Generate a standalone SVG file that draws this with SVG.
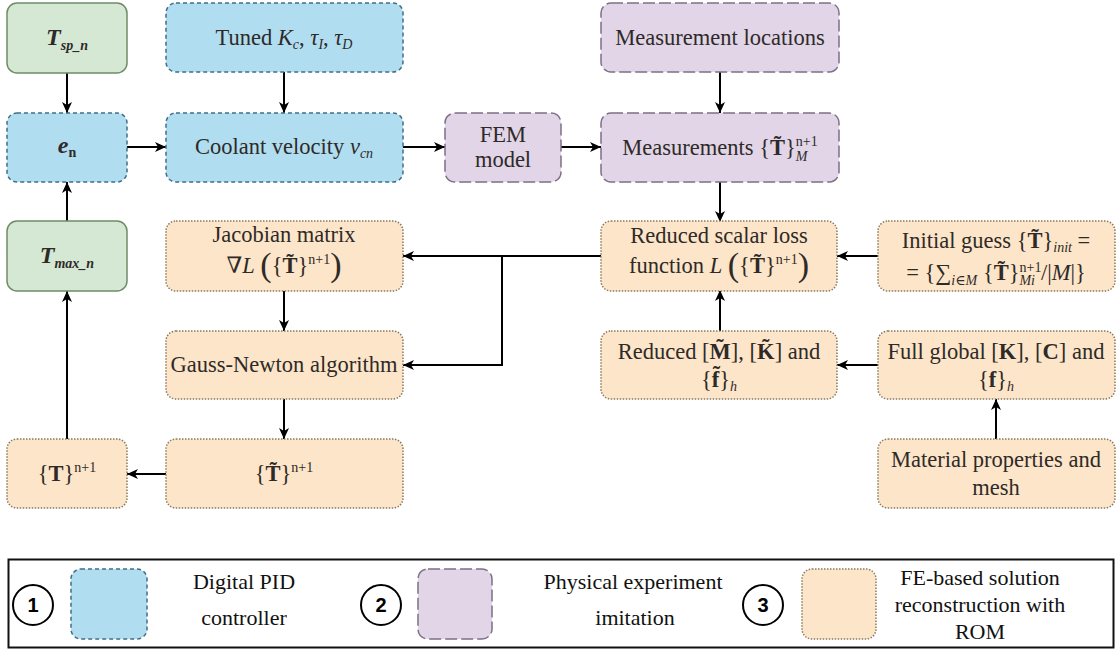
<svg xmlns="http://www.w3.org/2000/svg" width="1119" height="651" viewBox="0 0 1119 651">
  <style>
    .box { stroke-width: 1.5; }
    .green { fill: #d5e8d4; stroke: #6f8c68; }
    .blue { fill: #b1ddf0; stroke: #3f6f88; stroke-dasharray: 4 3; }
    .purple { fill: #e1d5e7; stroke: #7d6f86; stroke-dasharray: 12 4; }
    .orange { fill: #fde5c9; stroke: #8c7a5c; stroke-dasharray: 1.5 1.5; }
    text { font-family: "Liberation Serif", "DejaVu Serif", serif; }
    .lbl { font-size: 22.5px; fill: #2e2a28; text-anchor: middle; }
    .it { font-style: italic; }
    .bf { font-weight: bold; }
    .sm { font-size: 14px; }
    .big { font-size: 34px; }
    .conn { fill: none; stroke: #000; stroke-width: 2; marker-end: url(#arrow); }
    .legend-text { font-size: 22px; fill: #111; text-anchor: middle; }
    .num { font-family: "Liberation Sans", Arial, sans-serif; font-size: 20px; font-weight: bold; text-anchor: middle; fill: #000; }
  </style>
  <defs>
    <marker id="arrow" markerUnits="userSpaceOnUse" markerWidth="12" markerHeight="10" refX="11" refY="5" orient="auto">
      <path d="M0,0 L11,5 L0,10 L3,5 z" fill="#000"/>
    </marker>
  </defs>

  <rect width="1119" height="651" fill="#fff"/>

  <!-- connectors -->
  <g id="connectors">
    <path class="conn" d="M67,73 V113"/>
    <path class="conn" d="M284,72 V113"/>
    <path class="conn" d="M127,147 H166"/>
    <path class="conn" d="M403,147 H445"/>
    <path class="conn" d="M561,147 H601"/>
    <path class="conn" d="M720,72 V113"/>
    <path class="conn" d="M720,182 V222"/>
    <path class="conn" d="M878,256 H837"/>
    <path class="conn" d="M601,256 H403"/>
    <path class="conn" d="M502,256 V365 H403"/>
    <path class="conn" d="M284,291 V331"/>
    <path class="conn" d="M284,399 V439"/>
    <path class="conn" d="M166,474 H127"/>
    <path class="conn" d="M67,439 V291"/>
    <path class="conn" d="M67,221 V182"/>
    <path class="conn" d="M720,331 V290"/>
    <path class="conn" d="M878,365 H837"/>
    <path class="conn" d="M996,439 V399"/>
  </g>

  <!-- PID controller loop -->
  <g id="node-tsp">
    <rect class="box green" x="7" y="3" width="120" height="70" rx="10"/>
    <text class="lbl" x="67" y="45"><tspan class="it bf" font-size="24">T</tspan><tspan class="sm it bf" dy="5">sp_n</tspan></text>
  </g>
  <g id="node-tuned">
    <rect class="box blue" x="166" y="3" width="237" height="69" rx="10"/>
    <text class="lbl" x="284" y="45">Tuned <tspan class="it">K</tspan><tspan class="sm it" dy="4">c</tspan><tspan dy="-4">, </tspan><tspan class="it">τ</tspan><tspan class="sm it" dy="4">I</tspan><tspan dy="-4">, </tspan><tspan class="it">τ</tspan><tspan class="sm it" dy="4">D</tspan></text>
  </g>
  <g id="node-en">
    <rect class="box blue" x="7" y="113" width="120" height="69" rx="10"/>
    <text class="lbl" x="67" y="153"><tspan class="it bf" font-size="24">e</tspan><tspan class="sm bf" dy="4">n</tspan></text>
  </g>
  <g id="node-coolant">
    <rect class="box blue" x="166" y="113" width="237" height="69" rx="10"/>
    <text class="lbl" x="284" y="154">Coolant velocity <tspan class="it">v</tspan><tspan class="sm it" dy="4">cn</tspan></text>
  </g>

  <!-- physical experiment -->
  <g id="node-fem">
    <rect class="box purple" x="445" y="113" width="116" height="69" rx="10"/>
    <text class="lbl" x="503" y="142">FEM</text>
    <text class="lbl" x="503" y="167">model</text>
  </g>
  <g id="node-mloc">
    <rect class="box purple" x="601" y="3" width="238" height="69" rx="10"/>
    <text class="lbl" x="720" y="45">Measurement locations</text>
  </g>
  <g id="node-meas">
    <rect class="box purple" x="601" y="113" width="238" height="69" rx="10"/>
    <text class="lbl" x="720" y="155">Measurements {<tspan class="bf">T̃</tspan>}<tspan class="sm" dy="-9">n+1</tspan><tspan class="sm it" dx="-22" dy="15">M</tspan></text>
  </g>

  <!-- feedback value -->
  <g id="node-tmax">
    <rect class="box green" x="7" y="221" width="120" height="70" rx="10"/>
    <text class="lbl" x="67" y="263"><tspan class="it bf" font-size="24">T</tspan><tspan class="sm it bf" dy="5">max_n</tspan></text>
  </g>

  <!-- ROM reconstruction -->
  <g id="node-jacobian">
    <rect class="box orange" x="166" y="221" width="237" height="70" rx="10"/>
    <text class="lbl" x="284" y="242">Jacobian matrix</text>
    <text class="lbl" x="284" y="273">∇<tspan class="it">L</tspan> <tspan class="big" dy="3">(</tspan><tspan dy="-3">{</tspan><tspan class="bf">T̃</tspan>}<tspan class="sm" dy="-9">n+1</tspan><tspan class="big" dy="12">)</tspan></text>
  </g>
  <g id="node-loss">
    <rect class="box orange" x="601" y="221" width="236" height="70" rx="10"/>
    <text class="lbl" x="719" y="243">Reduced scalar loss</text>
    <text class="lbl" x="719" y="273">function <tspan class="it">L</tspan> <tspan class="big" dy="3">(</tspan><tspan dy="-3">{</tspan><tspan class="bf">T̃</tspan>}<tspan class="sm" dy="-9">n+1</tspan><tspan class="big" dy="12">)</tspan></text>
  </g>
  <g id="node-init">
    <rect class="box orange" x="878" y="221" width="237" height="70" rx="10"/>
    <text class="lbl" x="996" y="248">Initial guess {<tspan class="bf">T̃</tspan>}<tspan class="sm it" dy="4">init</tspan><tspan dy="-4"> =</tspan></text>
    <text class="lbl" x="996" y="280">= {∑<tspan class="sm it" dy="5">i∈M</tspan><tspan dy="-5"> {</tspan><tspan class="bf">T̃</tspan>}<tspan class="sm" dy="-8">n+1</tspan><tspan class="sm it" dx="-22" dy="13">Mi</tspan><tspan dx="6" dy="-5">/|</tspan><tspan class="it">M</tspan>|}</text>
  </g>
  <g id="node-gn">
    <rect class="box orange" x="166" y="331" width="237" height="68" rx="10"/>
    <text class="lbl" x="284" y="372">Gauss-Newton algorithm</text>
  </g>
  <g id="node-reduced">
    <rect class="box orange" x="601" y="331" width="236" height="68" rx="10"/>
    <text class="lbl" x="719" y="359">Reduced [<tspan class="bf">M̃</tspan>], [<tspan class="bf">K̃</tspan>] and</text>
    <text class="lbl" x="719" y="387">{<tspan class="bf">f̃</tspan>}<tspan class="sm it" dy="4">h</tspan></text>
  </g>
  <g id="node-full">
    <rect class="box orange" x="878" y="331" width="237" height="68" rx="10"/>
    <text class="lbl" x="996" y="359">Full global [<tspan class="bf">K</tspan>], [<tspan class="bf">C</tspan>] and</text>
    <text class="lbl" x="996" y="387">{<tspan class="bf">f</tspan>}<tspan class="sm it" dy="4">h</tspan></text>
  </g>
  <g id="node-tn1">
    <rect class="box orange" x="7" y="439" width="120" height="69" rx="10"/>
    <text class="lbl" x="67" y="481">{<tspan class="bf">T</tspan>}<tspan class="sm" dy="-9">n+1</tspan></text>
  </g>
  <g id="node-ttilde">
    <rect class="box orange" x="166" y="439" width="237" height="69" rx="10"/>
    <text class="lbl" x="284" y="481">{<tspan class="bf">T̃</tspan>}<tspan class="sm" dy="-9">n+1</tspan></text>
  </g>
  <g id="node-material">
    <rect class="box orange" x="878" y="439" width="237" height="69" rx="10"/>
    <text class="lbl" x="996" y="467">Material properties and</text>
    <text class="lbl" x="996" y="495">mesh</text>
  </g>

  <!-- legend -->
  <g id="legend">
    <rect x="8.5" y="559.5" width="1105" height="88" fill="none" stroke="#111" stroke-width="2"/>
    <circle cx="33" cy="605" r="20" fill="#fff" stroke="#000" stroke-width="2"/>
    <text class="num" x="33" y="612">1</text>
    <rect class="box blue" x="71" y="569" width="76" height="70" rx="10"/>
    <text class="legend-text" x="244" y="589">Digital PID</text>
    <text class="legend-text" x="244" y="625">controller</text>

    <circle cx="381" cy="605" r="20" fill="#fff" stroke="#000" stroke-width="2"/>
    <text class="num" x="381" y="612">2</text>
    <rect class="box purple" x="418" y="569" width="74" height="70" rx="10"/>
    <text class="legend-text" x="633" y="589">Physical experiment</text>
    <text class="legend-text" x="635" y="625">imitation</text>

    <circle cx="763" cy="605" r="20" fill="#fff" stroke="#000" stroke-width="2"/>
    <text class="num" x="763" y="612">3</text>
    <rect class="box orange" x="802" y="569" width="74" height="70" rx="10"/>
    <text class="legend-text" x="980" y="585">FE-based solution</text>
    <text class="legend-text" x="980" y="612">reconstruction with</text>
    <text class="legend-text" x="980" y="639">ROM</text>
  </g>
</svg>
